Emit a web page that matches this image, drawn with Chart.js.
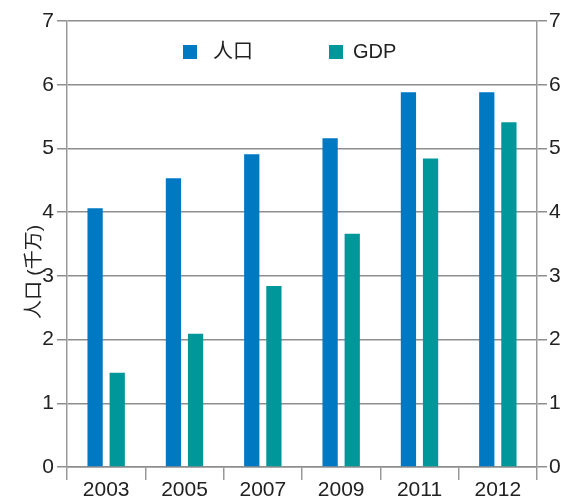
<!DOCTYPE html>
<html>
<head>
<meta charset="utf-8">
<script src="https://cdn.jsdelivr.net/npm/chart.js@4"></script>
<style>
html,body{margin:0;padding:0;background:#fff;overflow:hidden;}
canvas{display:block;}
</style>
</head>
<body>
<canvas id="c" width="561" height="496"></canvas>
<script>
const categories = ['2003', '2005', '2007', '2009', '2011', '2012'];
const population = [4.06, 4.53, 4.91, 5.16, 5.88, 5.88];
const gdp = [1.48, 2.09, 2.84, 3.66, 4.84, 5.41];
const seriesNames = ['人口', 'GDP'];
const yAxisTitle = '人口 (千万)';
const yMin = 0, yMax = 7, yStep = 1;

const FONT = "'Liberation Sans', 'Noto Sans CJK SC', Arial, sans-serif";
const BLUE = '#0079c2';
const TEAL = '#00979b';
const GRID = '#8e8e8e';
const TEXT = '#222222';

const overlay = {
  id: 'overlay',
  afterDraw(chart) {
    const ctx = chart.ctx;
    ctx.save();
    // legend
    const items = chart.data.datasets.map(d => ({label: d.label, color: d.backgroundColor}));
    const sq = [183, 329];
    const tx = [213, 353];
    ctx.font = '20px ' + FONT;
    ctx.textBaseline = 'middle';
    items.forEach((it, i) => {
      ctx.fillStyle = it.color;
      ctx.fillRect(sq[i], 45, 14, 14);
      ctx.fillStyle = TEXT;
      ctx.fillText(it.label, tx[i], 52);
    });
    // y axis title
    ctx.translate(35, 272);
    ctx.rotate(-Math.PI / 2);
    ctx.textAlign = 'center';
    ctx.textBaseline = 'middle';
    ctx.font = '19px ' + FONT;
    ctx.fillStyle = TEXT;
    ctx.fillText(yAxisTitle, 0, 0);
    ctx.restore();
  }
};

new Chart(document.getElementById('c'), {
  type: 'bar',
  data: {
    labels: categories,
    datasets: [
      {label: seriesNames[0], data: population, backgroundColor: BLUE, categoryPercentage: 0.565, barPercentage: 0.69},
      {label: seriesNames[1], data: gdp, backgroundColor: TEAL, categoryPercentage: 0.565, barPercentage: 0.69}
    ]
  },
  options: {
    responsive: false,
    animation: false,
    devicePixelRatio: 1,
    layout: {padding: {top: 21, left: 0, right: 0, bottom: 0}},
    plugins: {legend: {display: false}, tooltip: {enabled: false}},
    scales: {
      x: {
        type: 'category',
        offset: true,
        grid: {offset: true, drawOnChartArea: false, drawTicks: true, tickLength: 13, color: '#999', lineWidth: 1.5},
        border: {display: true, color: GRID, width: 1.5},
        ticks: {font: {family: FONT, size: 21}, color: TEXT, padding: -2, maxRotation: 0, autoSkip: false},
        afterFit(s) { s.height = 29; }
      },
      y: {
        position: 'left',
        min: yMin, max: yMax,
        grid: {color: GRID, lineWidth: 1.5, tickLength: 10},
        border: {display: true, color: '#999', width: 1.5},
        ticks: {stepSize: yStep, font: {family: FONT, size: 21}, color: TEXT, padding: 3},
        afterFit(s) { s.width = 67; }
      },
      y2: {
        position: 'right',
        min: yMin, max: yMax,
        grid: {drawOnChartArea: false, color: GRID, lineWidth: 1.5, tickLength: 10},
        border: {display: true, color: '#999', width: 1.5},
        ticks: {stepSize: yStep, font: {family: FONT, size: 21}, color: TEXT, padding: 2},
        afterFit(s) { s.width = 24; }
      }
    }
  },
  plugins: [overlay]
});
</script>
</body>
</html>
